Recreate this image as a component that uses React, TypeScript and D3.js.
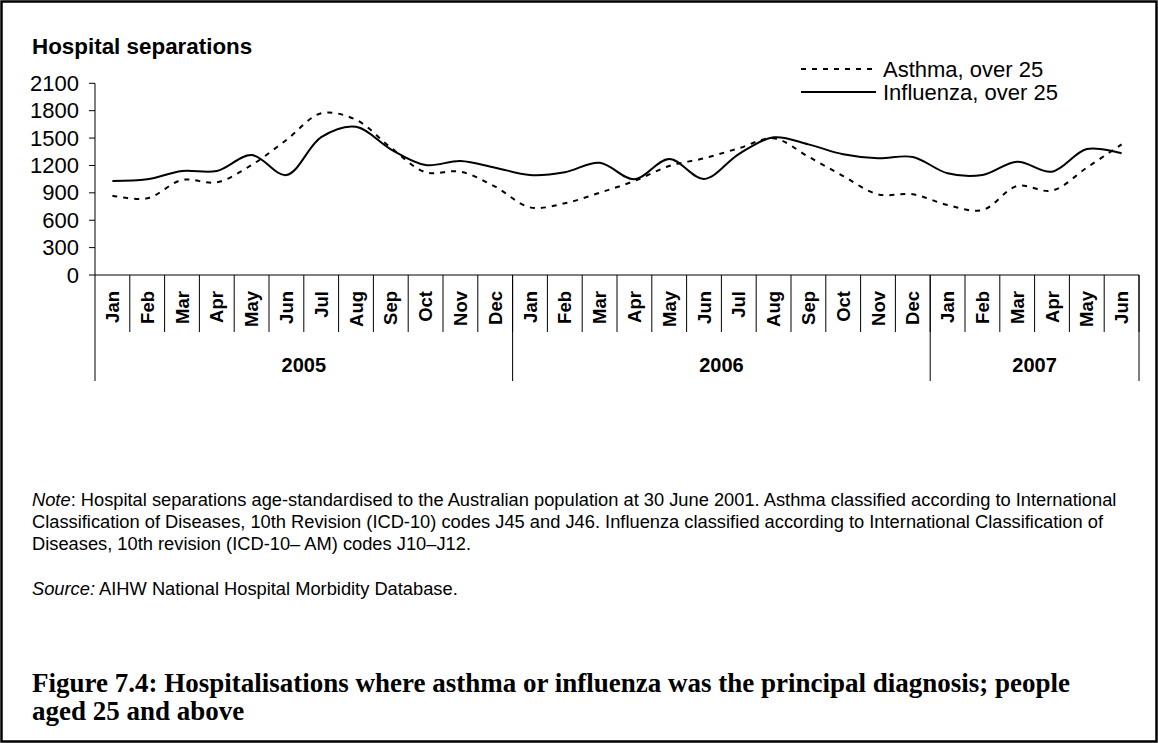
import React from "react";
import * as d3 from "d3";

const monthNames = ["Jan", "Feb", "Mar", "Apr", "May", "Jun", "Jul", "Aug", "Sep", "Oct", "Nov", "Dec"];
const years = ["2005", "2006", "2007"];
const monthsPerYear = [12, 12, 6];
const yTicks = [0, 300, 600, 900, 1200, 1500, 1800, 2100];

const asthma = [869, 840, 1041, 1015, 1205, 1479, 1771, 1700, 1395, 1125, 1132, 967,
  741, 785, 901, 1030, 1194, 1278, 1388, 1497, 1296, 1084, 884, 884,
  767, 712, 975, 924, 1176, 1431];
const influenza = [1030, 1048, 1139, 1139, 1314, 1095, 1510, 1624, 1377, 1205, 1249, 1176,
  1095, 1125, 1230, 1048, 1271, 1052, 1325, 1508, 1431, 1322, 1278, 1293,
  1114, 1095, 1241, 1132, 1380, 1333];

const W = 1158;
const H = 743;

export default function App() {
  const labels: { m: string; yi: number }[] = [];
  years.forEach((y, yi) => {
    for (let i = 0; i < monthsPerYear[yi]; i++) labels.push({ m: monthNames[i], yi });
  });
  const idx = labels.map((_, i) => i);
  const x = d3.scaleBand<number>().domain(idx).range([95, 1139]);
  const y = d3.scaleLinear().domain([0, 2100]).range([275, 83.3]);
  const bw = x.bandwidth();
  const cx = (i: number) => (x(i) as number) + bw / 2;

  const line = d3
    .line<number>()
    .x((_, i) => cx(i))
    .y((d) => y(d))
    .curve(d3.curveCatmullRom.alpha(0.5));

  const yearStarts: number[] = [];
  let acc = 0;
  monthsPerYear.forEach((n) => {
    yearStarts.push(acc);
    acc += n;
  });

  const sans = "Liberation Sans, Arial, sans-serif";
  const serif = "Liberation Serif, Times New Roman, serif";

  return (
    <svg width={W} height={H} style={{ position: "absolute", left: 0, top: 0, background: "#fff" }}>
      <rect x={1.5} y={1.5} width={W - 3} height={H - 3} fill="#fff" stroke="#000" strokeWidth={2.5} />
      <text x={32} y={54} fontFamily={sans} fontWeight="bold" fontSize={22.4}>Hospital separations</text>

      {/* y axis */}
      <line x1={95} x2={95} y1={y(2100)} y2={y(0)} stroke="#000" strokeWidth={1} />
      {yTicks.map((t) => (
        <g key={t}>
          <line x1={89} x2={95} y1={y(t)} y2={y(t)} stroke="#000" strokeWidth={1} />
          <text x={79} y={y(t) + 7.5} textAnchor="end" fontFamily={sans} fontSize={22}>{t}</text>
        </g>
      ))}

      {/* x axis */}
      <line x1={95} x2={1139} y1={275} y2={275} stroke="#000" strokeWidth={1} />
      {idx.map((i) => (
        <line key={"mt" + i} x1={(x(i) as number) + bw} x2={(x(i) as number) + bw} y1={275} y2={332} stroke="#000" strokeWidth={1} />
      ))}
      {yearStarts.map((s, k) => (
        <line key={"ys" + k} x1={x(s) as number} x2={x(s) as number} y1={275} y2={381} stroke="#000" strokeWidth={1} />
      ))}
      <line x1={1139} x2={1139} y1={275} y2={381} stroke="#000" strokeWidth={1} />
      {labels.map((l, i) => (
        <text
          key={"ml" + i}
          transform={`translate(${cx(i) + 6.5},291) rotate(-90)`}
          textAnchor="end"
          fontFamily={sans}
          fontWeight="bold"
          fontSize={18.5}
        >
          {l.m}
        </text>
      ))}
      {years.map((yr, k) => {
        const a = x(yearStarts[k]) as number;
        const b = (x(yearStarts[k] + monthsPerYear[k] - 1) as number) + bw;
        return (
          <text key={yr} x={(a + b) / 2} y={372} textAnchor="middle" fontFamily={sans} fontWeight="bold" fontSize={20}>
            {yr}
          </text>
        );
      })}

      {/* lines */}
      <path d={line(influenza) || ""} fill="none" stroke="#000" strokeWidth={2} />
      <path d={line(asthma) || ""} fill="none" stroke="#000" strokeWidth={2} strokeDasharray="5,6" />

      {/* legend */}
      <line x1={801} x2={876} y1={69} y2={69} stroke="#000" strokeWidth={2} strokeDasharray="5,6" />
      <text x={883} y={76.5} fontFamily={sans} fontSize={22}>Asthma, over 25</text>
      <line x1={801} x2={876} y1={92} y2={92} stroke="#000" strokeWidth={2} />
      <text x={883} y={99.5} fontFamily={sans} fontSize={22}>Influenza, over 25</text>

      {/* notes */}
      <text x={32} y={506} fontFamily={sans} fontSize={18.3}>
        <tspan fontStyle="italic">Note</tspan>: Hospital separations age-standardised to the Australian population at 30 June 2001. Asthma classified according to International
      </text>
      <text x={32} y={528} fontFamily={sans} fontSize={18.3}>
        Classification of Diseases, 10th Revision (ICD-10) codes J45 and J46. Influenza classified according to International Classification of
      </text>
      <text x={32} y={550} fontFamily={sans} fontSize={18.3}>
        Diseases, 10th revision (ICD-10– AM) codes J10–J12.
      </text>
      <text x={32} y={595} fontFamily={sans} fontSize={18.3}>
        <tspan fontStyle="italic">Source:</tspan> AIHW National Hospital Morbidity Database.
      </text>

      {/* caption */}
      <text x={32} y={692} fontFamily={serif} fontWeight="bold" fontSize={27}>
        Figure 7.4: Hospitalisations where asthma or influenza was the principal diagnosis; people
      </text>
      <text x={32} y={720} fontFamily={serif} fontWeight="bold" fontSize={27}>
        aged 25 and above
      </text>
    </svg>
  );
}
